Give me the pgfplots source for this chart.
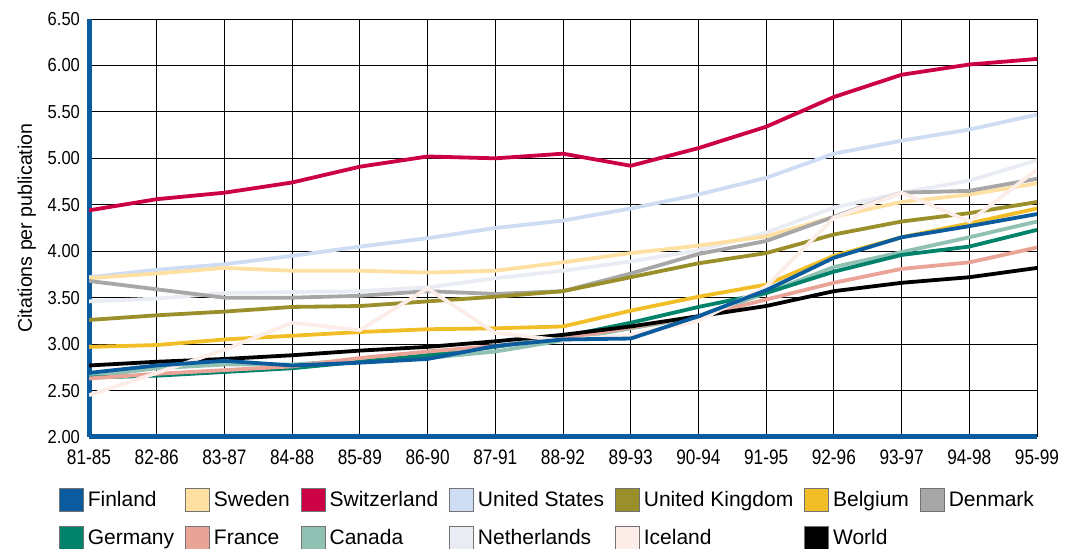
\documentclass[border=0pt]{standalone}
\usepackage{pgfplots}
\pgfplotsset{compat=1.18}
\usepackage{fontspec}
\setmainfont{Liberation Sans}
\newfontfamily\xtickfont{Liberation Sans}[FakeStretch=0.82]
\newfontfamily\ytickfont{Liberation Sans}[FakeStretch=0.88]
\definecolor{cFin}{HTML}{0B5C9E}
\definecolor{cSwe}{HTML}{FEE0A3}
\definecolor{cSwi}{HTML}{CC0044}
\definecolor{cUS}{HTML}{CEDDF3}
\definecolor{cUK}{HTML}{9A8F2B}
\definecolor{cBel}{HTML}{F2BE27}
\definecolor{cDen}{HTML}{A7A7A7}
\definecolor{cGer}{HTML}{00826B}
\definecolor{cFra}{HTML}{E9A497}
\definecolor{cCan}{HTML}{91C1B2}
\definecolor{cNet}{HTML}{E9EDF3}
\definecolor{cIce}{HTML}{FCEDE9}
\definecolor{cWor}{HTML}{000000}
\begin{document}
\begin{tikzpicture}
\begin{axis}[
  scale only axis,
  width=474pt, height=209pt,
  xmin=0, xmax=14, ymin=2, ymax=6.5,
  axis x line=bottom, axis y line=left,
  axis line style={draw=cFin, line width=2.5pt, -},
  xtick={0,...,14},
  xticklabels={81-85,82-86,83-87,84-88,85-89,86-90,87-91,88-92,89-93,90-94,91-95,92-96,93-97,94-98,95-99},
  ytick={2,2.5,...,6.5},
  major tick length=0pt,
  grid=major,
  major grid style={black, line width=0.5pt},
  /pgf/number format/assume math mode=true,
  xticklabel style={font=\xtickfont\fontsize{10.5}{12}\selectfont, yshift=-3pt},
  yticklabel style={font=\ytickfont\fontsize{9.4}{11}\selectfont, xshift=-1pt,
     /pgf/number format/.cd, fixed, fixed zerofill, precision=2},
  ylabel={Citations per publication},
  ylabel style={font=\fontsize{9.8}{11}\selectfont, yshift=-1pt},
  every axis plot/.append style={line width=1.9pt, mark=none},
  legend columns=7,
  legend cell align=left,
  legend style={at={(rel axis cs:0,0)}, anchor=north west, xshift=-15pt, yshift=-25pt,
    draw=none, fill=none, inner sep=0pt, outer sep=0pt,
    font=\fontsize{10.5}{12}\selectfont,
    /tikz/every even column/.append style={column sep=3.5pt},
    row sep=6pt},
  legend image code/.code={\draw[#1] (0pt,-5.8pt) rectangle (12pt,5.8pt);},
]
\coordinate (sw) at (rel axis cs:0,0);
% draw order (bottom to top)
\addplot[cNet, forget plot] coordinates {(0,3.46)(1,3.49)(2,3.55)(3,3.56)(4,3.57)(5,3.61)(6,3.71)(7,3.79)(8,3.89)(9,4.01)(10,4.20)(11,4.47)(12,4.63)(13,4.76)(14,4.98)};
\addplot[cUS, forget plot] coordinates {(0,3.72)(1,3.80)(2,3.86)(3,3.95)(4,4.05)(5,4.14)(6,4.25)(7,4.33)(8,4.46)(9,4.61)(10,4.79)(11,5.05)(12,5.19)(13,5.31)(14,5.47)};
\addplot[cSwe, forget plot] coordinates {(0,3.71)(1,3.76)(2,3.82)(3,3.79)(4,3.79)(5,3.77)(6,3.79)(7,3.88)(8,3.98)(9,4.06)(10,4.16)(11,4.37)(12,4.53)(13,4.61)(14,4.73)};
\addplot[cDen, forget plot] coordinates {(0,3.68)(1,3.59)(2,3.50)(3,3.50)(4,3.52)(5,3.57)(6,3.54)(7,3.57)(8,3.76)(9,3.97)(10,4.11)(11,4.37)(12,4.63)(13,4.65)(14,4.78)};
\addplot[cUK, forget plot] coordinates {(0,3.26)(1,3.31)(2,3.35)(3,3.40)(4,3.41)(5,3.46)(6,3.51)(7,3.57)(8,3.72)(9,3.87)(10,3.98)(11,4.18)(12,4.32)(13,4.41)(14,4.53)};
\addplot[cCan, forget plot] coordinates {(0,2.65)(1,2.74)(2,2.78)(3,2.78)(4,2.83)(5,2.85)(6,2.92)(7,3.04)(8,3.17)(9,3.29)(10,3.55)(11,3.83)(12,3.99)(13,4.15)(14,4.32)};
\addplot[cGer, forget plot] coordinates {(0,2.64)(1,2.66)(2,2.70)(3,2.74)(4,2.81)(5,2.88)(6,2.97)(7,3.08)(8,3.23)(9,3.40)(10,3.55)(11,3.78)(12,3.96)(13,4.05)(14,4.23)};
\addplot[cFra, forget plot] coordinates {(0,2.63)(1,2.68)(2,2.72)(3,2.76)(4,2.85)(5,2.92)(6,2.98)(7,3.06)(8,3.18)(9,3.30)(10,3.48)(11,3.66)(12,3.81)(13,3.88)(14,4.04)};
\addplot[cBel, forget plot] coordinates {(0,2.97)(1,2.99)(2,3.05)(3,3.09)(4,3.13)(5,3.16)(6,3.17)(7,3.19)(8,3.36)(9,3.51)(10,3.64)(11,3.95)(12,4.15)(13,4.30)(14,4.46)};
\addplot[cWor, forget plot] coordinates {(0,2.77)(1,2.81)(2,2.84)(3,2.88)(4,2.93)(5,2.97)(6,3.03)(7,3.10)(8,3.19)(9,3.30)(10,3.41)(11,3.57)(12,3.66)(13,3.72)(14,3.82)};
\addplot[cIce, forget plot] coordinates {(0,2.45)(1,2.69)(2,2.94)(3,3.23)(4,3.15)(5,3.60)(6,3.12)(7,3.04)(8,3.10)(9,3.25)(10,3.62)(11,4.36)(12,4.63)(13,4.32)(14,4.88)};
\addplot[cSwi, forget plot] coordinates {(0,4.44)(1,4.56)(2,4.63)(3,4.74)(4,4.91)(5,5.02)(6,5.00)(7,5.05)(8,4.92)(9,5.11)(10,5.34)(11,5.66)(12,5.90)(13,6.01)(14,6.07)};
\addplot[cFin, forget plot] coordinates {(0,2.69)(1,2.77)(2,2.82)(3,2.77)(4,2.80)(5,2.84)(6,2.98)(7,3.05)(8,3.06)(9,3.30)(10,3.58)(11,3.93)(12,4.15)(13,4.27)(14,4.40)};
% legend
\addlegendimage{fill=cFin, draw=black!55, line width=0.4pt}\addlegendentry{Finland}
\addlegendimage{fill=cSwe, draw=black!55, line width=0.4pt}\addlegendentry{Sweden}
\addlegendimage{fill=cSwi, draw=black!55, line width=0.4pt}\addlegendentry{Switzerland}
\addlegendimage{fill=cUS, draw=black!55, line width=0.4pt}\addlegendentry{United States}
\addlegendimage{fill=cUK, draw=black!55, line width=0.4pt}\addlegendentry{United Kingdom}
\addlegendimage{fill=cBel, draw=black!55, line width=0.4pt}\addlegendentry{Belgium}
\addlegendimage{fill=cDen, draw=black!55, line width=0.4pt}\addlegendentry{Denmark}
\addlegendimage{fill=cGer, draw=black!55, line width=0.4pt}\addlegendentry{Germany}
\addlegendimage{fill=cFra, draw=black!55, line width=0.4pt}\addlegendentry{France}
\addlegendimage{fill=cCan, draw=black!55, line width=0.4pt}\addlegendentry{Canada}
\addlegendimage{fill=cNet, draw=black!55, line width=0.4pt}\addlegendentry{Netherlands}
\addlegendimage{fill=cIce, draw=black!55, line width=0.4pt}\addlegendentry{Iceland}
\addlegendimage{fill=cWor, draw=black!55, line width=0.4pt}\addlegendentry{World}
\end{axis}
\pgfresetboundingbox
\path[use as bounding box] (sw) ++(-44.5pt,-56pt) rectangle ++(534.5pt,274.5pt);
\end{tikzpicture}
\end{document}
